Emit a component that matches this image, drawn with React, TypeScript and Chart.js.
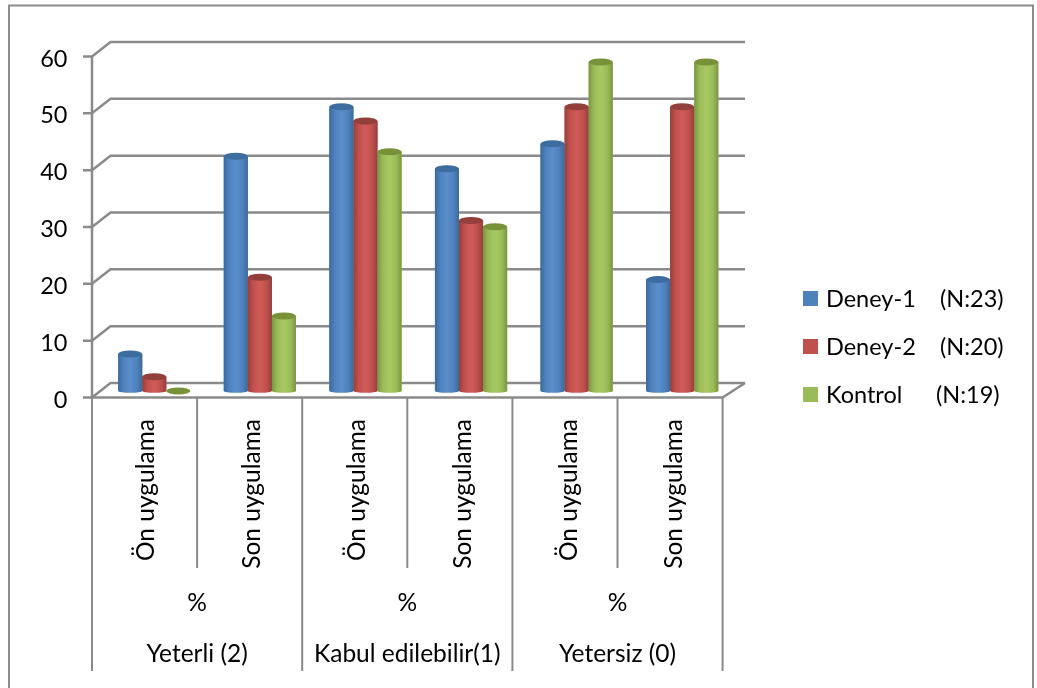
import { useEffect, useRef } from "react";
import { Chart, registerables } from "chart.js";

Chart.register(...registerables);

const applications = ["Ön uygulama", "Son uygulama", "Ön uygulama", "Son uygulama", "Ön uygulama", "Son uygulama"];
const units = ["%", "%", "%"];
const levels = ["Yeterli (2)", "Kabul edilebilir(1)", "Yetersiz (0)"];

const deney1 = [6.5, 41.3, 50, 39.1, 43.5, 19.6];
const deney2 = [2.5, 20, 47.5, 30, 50, 50];
const kontrol = [0, 13.2, 42.1, 28.9, 57.9, 57.9];

const seriesNames = ["Deney-1", "Deney-2", "Kontrol"];
const seriesGroups = ["(N:23)", "(N:20)", "(N:19)"];
const yMax = 60;
const yStep = 10;

const FONT = "Lato, 'Open Sans', sans-serif";
const AXIS = "#8A8A8A";
const TEXT = "#000000";
const BASE = ["#4F81BD", "#C0504D", "#9BBB59"];
const LIGHT = ["#5A8FCC", "#D05C59", "#A8CA62"];
const DARK = ["#3A6A9C", "#943F3C", "#7A9541"];
const CAP = ["#3D6D9F", "#933F3C", "#779239"];

// The drawing has three depth planes: front floor edge, bars, back wall.
const FRONT = { dy: 6.5 };
const BACK = { dx: 9, dy: -8 };
const FRONT_LEFT = 92;
const FRONT_STEP = 105.1;

const wallPlugin = {
  id: "wall",
  beforeDatasetsDraw(chart: any) {
    const { ctx, scales } = chart;
    const y = scales.y;
    const left = chart.chartArea.left;
    const right = chart.chartArea.right;
    ctx.save();
    ctx.strokeStyle = AXIS;
    ctx.lineWidth = 2.5;
    for (let v = 0; v <= yMax; v += yStep) {
      const p = y.getPixelForValue(v);
      ctx.beginPath();
      ctx.moveTo(FRONT_LEFT - 9, p + FRONT.dy);
      ctx.lineTo(FRONT_LEFT, p + FRONT.dy);
      ctx.lineTo(left + BACK.dx, p + BACK.dy);
      ctx.lineTo(right + BACK.dx + 1, p + BACK.dy);
      ctx.stroke();
    }
    const y0 = y.getPixelForValue(0);
    const yTop = y.getPixelForValue(yMax);
    ctx.beginPath();
    ctx.moveTo(FRONT_LEFT, yTop + FRONT.dy);
    ctx.lineTo(FRONT_LEFT, y0 + FRONT.dy);
    ctx.stroke();
    // Floor front edge and its right-hand return to the back wall
    ctx.beginPath();
    ctx.moveTo(FRONT_LEFT, y0 + FRONT.dy);
    ctx.lineTo(FRONT_LEFT + FRONT_STEP * applications.length, y0 + FRONT.dy);
    ctx.lineTo(right + BACK.dx + 1, y0 + BACK.dy);
    ctx.stroke();
    ctx.restore();
  },
};

const cylinderPlugin = {
  id: "cylinder",
  afterDatasetsDraw(chart: any) {
    const { ctx } = chart;
    chart.data.datasets.forEach((_: any, s: number) => {
      chart.getDatasetMeta(s).data.forEach((bar: any) => {
        const half = bar.width / 2;
        const ry = 3.5;
        const grad = ctx.createLinearGradient(bar.x - half, 0, bar.x + half, 0);
        grad.addColorStop(0, DARK[s]);
        grad.addColorStop(0.22, BASE[s]);
        grad.addColorStop(0.5, LIGHT[s]);
        grad.addColorStop(0.78, BASE[s]);
        grad.addColorStop(1, DARK[s]);
        ctx.save();
        ctx.fillStyle = grad;
        ctx.beginPath();
        ctx.moveTo(bar.x - half, bar.y);
        ctx.lineTo(bar.x - half, bar.base);
        ctx.ellipse(bar.x, bar.base, half, 1.8, 0, Math.PI, 0, true);
        ctx.lineTo(bar.x + half, bar.y);
        ctx.closePath();
        ctx.fill();
        ctx.fillStyle = CAP[s];
        ctx.beginPath();
        ctx.ellipse(bar.x, bar.y, half, ry, 0, 0, Math.PI * 2);
        ctx.fill();
        ctx.restore();
      });
    });
  },
};

const annotationPlugin = {
  id: "annotation",
  afterDraw(chart: any) {
    const { ctx } = chart;
    const y0 = chart.scales.y.getPixelForValue(0) + FRONT.dy;
    ctx.save();
    // Frame round the whole figure
    ctx.strokeStyle = "#8C8C8C";
    ctx.lineWidth = 2;
    ctx.strokeRect(9, 5.5, 1024, 690);

    // Dividers under the category axis
    ctx.strokeStyle = AXIS;
    for (let i = 0; i <= applications.length; i++) {
      const x = FRONT_LEFT + i * FRONT_STEP;
      ctx.beginPath();
      ctx.moveTo(x, y0);
      ctx.lineTo(x, i % 2 === 0 ? 671 : 568);
      ctx.stroke();
    }

    // Grouped category labels
    ctx.fillStyle = TEXT;
    ctx.font = `24.5px ${FONT}`;
    ctx.textAlign = "center";
    ctx.textBaseline = "middle";
    units.forEach((u, i) => {
      const x = FRONT_LEFT + (2 * i + 1) * FRONT_STEP;
      ctx.fillText(u, x, 603);
      ctx.fillText(levels[i], x, 654);
    });

    // Series key
    ctx.font = `23.5px ${FONT}`;
    ctx.textAlign = "left";
    const rows = [298, 346, 394];
    const groupX = [940, 940, 936];
    seriesNames.forEach((name, i) => {
      ctx.fillStyle = BASE[i];
      ctx.fillRect(803, rows[i] - 7, 15, 15);
      ctx.fillStyle = TEXT;
      ctx.fillText(name, 826, rows[i] + 1);
      ctx.fillText(seriesGroups[i], groupX[i], rows[i] + 1);
    });
    ctx.restore();
  },
};

export default function App() {
  const ref = useRef<HTMLCanvasElement>(null);
  useEffect(() => {
    const chart = new Chart(ref.current!, {
      type: "bar",
      data: {
        labels: applications,
        datasets: [
          { label: seriesNames[0], data: deney1, backgroundColor: BASE[0] },
          { label: seriesNames[1], data: deney2, backgroundColor: BASE[1] },
          { label: seriesNames[2], data: kontrol, backgroundColor: BASE[2] },
        ],
      },
      options: {
        responsive: false,
        animation: false,
        layout: { padding: { top: 50, left: 0, right: 302, bottom: 0 } },
        plugins: { legend: { display: false }, tooltip: { enabled: false } },
        datasets: { bar: { categoryPercentage: 0.684, barPercentage: 1 } },
        scales: {
          x: {
            grid: { display: false },
            border: { display: false },
            afterFit: (s: any) => { s.height = 297; },
            ticks: {
              minRotation: 90,
              maxRotation: 90,
              autoSkip: false,
              padding: 20,
              labelOffset: -8,
              color: TEXT,
              font: { family: FONT, size: 24.5 },
            },
          },
          y: {
            min: 0,
            max: yMax,
            grid: { display: false },
            border: { display: false },
            afterFit: (s: any) => { s.width = 101.5; },
            ticks: {
              stepSize: yStep,
              padding: 26,
              labelOffset: 9,
              color: TEXT,
              font: { family: FONT, size: 23.5 },
            },
          },
        },
      },
      plugins: [wallPlugin, cylinderPlugin, annotationPlugin],
    } as any);
    return () => chart.destroy();
  }, []);
  return (
    <div style={{ position: "fixed", left: 0, top: 0, width: 1037, height: 688, background: "#fff" }}>
      <canvas ref={ref} width={1037} height={688} style={{ display: "block" }} />
    </div>
  );
}
